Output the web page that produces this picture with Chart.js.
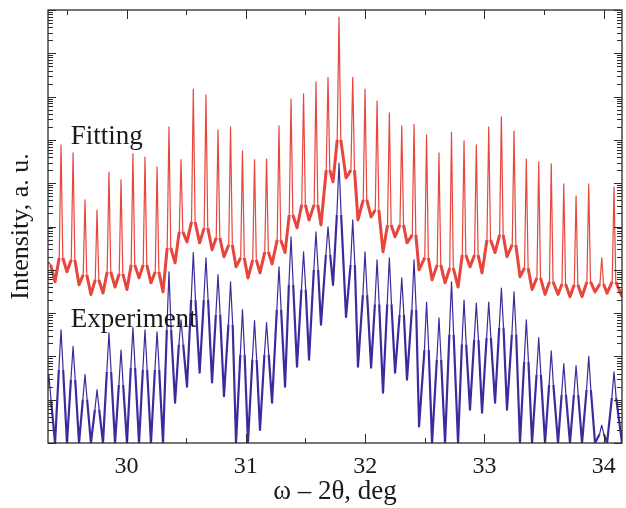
<!DOCTYPE html>
<html>
<head>
<meta charset="utf-8">
<script src="https://cdn.jsdelivr.net/npm/chart.js@4.4.1/dist/chart.umd.min.js"></script>
<style>
  html, body { margin: 0; padding: 0; background: #fff; }
  #wrap { width: 626px; height: 508px; }
</style>
</head>
<body>
<div id="wrap"><canvas id="xrd"></canvas></div>
<script>
// superlattice satellite positions, deg (shared by both curves)
const peakPos = [29.349, 29.451, 29.552, 29.652, 29.753, 29.853, 29.954, 30.054, 30.155, 30.256,
    30.356, 30.457, 30.560, 30.666, 30.767, 30.872, 30.972, 31.073, 31.174, 31.278,
    31.379, 31.484, 31.588, 31.689, 31.781, 31.896, 31.999, 32.100, 32.203, 32.307,
    32.410, 32.515, 32.619, 32.724, 32.829, 32.932, 33.036, 33.142, 33.248, 33.351,
    33.455, 33.560, 33.665, 33.768, 33.874, 33.983, 34.086];
// minimum after each peak, deg
const valleyPos = [29.401, 29.501, 29.602, 29.702, 29.803, 29.904, 30.004, 30.105, 30.205, 30.306,
    30.407, 30.507, 30.613, 30.717, 30.817, 30.918, 31.018, 31.119, 31.220, 31.329,
    31.429, 31.530, 31.630, 31.731, 31.840, 31.940, 32.050, 32.150, 32.251, 32.351,
    32.452, 32.561, 32.670, 32.779, 32.879, 32.980, 33.089, 33.189, 33.298, 33.399,
    33.508, 33.617, 33.717, 33.818, 33.927, 34.028, 34.153];

// Fitting (red)
const fitTop = [1.5e4, 7.7e6, 5.0e6, 4.1e5, 2.4e5, 1.8e6, 1.2e6, 4.8e6, 4.0e6, 2.4e6,
    2.0e7, 3.5e6, 1.5e8, 1.1e8, 1.7e7, 2.0e7, 5.6e6, 3.5e6, 3.6e6, 2.1e7,
    8.8e7, 1.15e8, 2.2e8, 2.8e8, 6.9e9, 2.8e8, 1.5e8, 7.9e7, 4.2e7, 2.1e7,
    2.3e7, 1.3e7, 5.0e6, 1.5e7, 9.5e6, 7.7e6, 2.0e7, 3.4e7, 1.6e7, 3.6e6,
    3.1e6, 2.8e6, 9.6e5, 5.1e5, 9.6e5, 1.9e4, 8.2e5];
const fitFoot = [1.3e4, 1.9e4, 1.7e4, 7.7e3, 5.9e3, 9.0e3, 8.1e3, 1.3e4, 1.3e4, 9.0e3,
    3.2e4, 7.5e4, 1.28e5, 9.3e4, 5.5e4, 3.8e4, 1.9e4, 1.7e4, 2.6e4, 4.9e4,
    1.86e5, 3.2e5, 3.2e5, 2.0e6, 1.0e7, 2.0e6, 4.1e5, 2.4e5, 1.09e5, 1.09e5,
    6.4e4, 1.9e4, 1.3e4, 1.1e4, 2.2e4, 2.2e4, 4.9e4, 6.4e4, 3.8e4, 1.1e4,
    6.5e3, 5.3e3, 4.7e3, 4.5e3, 5.3e3, 4.7e3, 5.3e3];
const fitValley = [5.3e3, 9.0e3, 4.5e3, 2.7e3, 2.9e3, 4.0e3, 3.5e3, 6.5e3, 5.0e3, 3.1e3,
    1.45e4, 4.4e4, 4.2e4, 2.9e4, 2.0e4, 1.17e4, 6.5e3, 8.5e3, 1.37e4, 2.5e4,
    9.3e4, 1.42e5, 1.09e5, 1.07e6, 1.33e6, 1.42e5, 1.67e5, 2.6e4, 5.8e4, 4.2e4,
    1.0e4, 5.9e3, 5.0e3, 4.0e3, 1.17e4, 8.5e3, 2.5e4, 2.0e4, 6.9e3, 3.5e3,
    2.7e3, 2.7e3, 2.4e3, 2.4e3, 3.1e3, 2.9e3, 2.4e3];

// Experiment (blue)
const expTop = [38, 410, 170, 38, 17, 350, 140, 460, 410, 370,
    9.0e3, 700, 2.5e4, 1.9e4, 7.7e3, 5.3e3, 1.2e3, 670, 600, 1.17e4,
    5.8e4, 2.6e4, 7.5e4, 9.8e4, 2.9e6, 1.42e5, 2.6e4, 1.7e4, 1.9e4, 6.5e3,
    1.7e4, 1.8e3, 780, 5.3e3, 2.0e3, 1.7e3, 1.8e3, 3.8e3, 3.1e3, 700,
    270, 135, 68, 61, 100, 2.6, 44];
const expFoot = [10, 49, 29, 10, 5.9, 44, 22, 55, 49, 49,
    410, 190, 2.0e3, 2.0e3, 910, 540, 110, 84, 110, 1.2e3,
    4.5e3, 3.5e3, 1.0e4, 2.2e4, 1.86e5, 1.3e4, 2.6e3, 1.6e3, 1.6e3, 910,
    1.2e3, 140, 84, 320, 190, 240, 270, 460, 320, 75,
    38, 22, 13, 13, 17, 1.6, 11];
const expValley = [1, 1, 1, 1, 1, 1, 1, 1, 1, 1,
    8.5, 20, 42, 25, 12, 1, 1, 2.0, 8.5, 20,
    58, 84, 540, 4.5e3, 820, 58, 55, 14.5, 42, 29,
    2.4, 1, 1, 1, 5.9, 5.0, 8.5, 5.9, 1, 1,
    1, 1, 1, 1, 1, 1, 1];

// axes
const xMin = 29.342, xMax = 34.153;
const xTickLabels = [30, 31, 32, 33, 34];
const yDecades = [1, 1e1, 1e2, 1e3, 1e4, 1e5, 1e6, 1e7, 1e8, 1e9, 1e10];
const yMinorSteps = [2, 3, 4, 5, 6, 7, 8, 9];

// half width of a satellite spike, deg
const FIT_SPIKE = 0.015;
const EXP_SPIKE = 0.018;

// points go foot, top, foot, valley for every peak
function buildCurve(top, foot, valley, spike) {
    const pts = [];
    peakPos.forEach((x, i) => {
        pts.push({ x: x - spike, y: foot[i] });
        pts.push({ x: x, y: top[i] });
        pts.push({ x: x + spike, y: foot[i] });
        pts.push({ x: valleyPos[i], y: valley[i] });
    });
    return pts;
}

// noisy background between spikes drawn as a heavier stroke
const inValley = ctx => ctx.p0DataIndex % 4 >= 2;

const yTickValues = [];
yDecades.forEach((d, i) => {
    yTickValues.push(d);
    if (i < yDecades.length - 1) yMinorSteps.forEach(k => yTickValues.push(k * d));
});

const serif = '"Liberation Serif", "Times New Roman", serif';

// inward ticks, frame and curve names
const framePlugin = {
    id: 'frame',
    afterDraw(chart) {
        const { ctx, chartArea: a, scales: { x, y } } = chart;
        ctx.save();
        ctx.strokeStyle = '#2b2b2b';
        ctx.lineWidth = 1;
        ctx.beginPath();
        x.ticks.forEach(t => {
            const px = Math.round(x.getPixelForValue(t.value)) + 0.5;
            const len = xTickLabels.includes(Math.round(t.value * 2) / 2) ? 9 : 5;
            ctx.moveTo(px, a.bottom); ctx.lineTo(px, a.bottom - len);
            ctx.moveTo(px, a.top); ctx.lineTo(px, a.top + len);
        });
        y.ticks.forEach(t => {
            const py = Math.round(y.getPixelForValue(t.value)) + 0.5;
            const len = yDecades.includes(t.value) ? 8 : 5;
            ctx.moveTo(a.left, py); ctx.lineTo(a.left + len, py);
            ctx.moveTo(a.right, py); ctx.lineTo(a.right - len, py);
        });
        ctx.stroke();
        ctx.lineWidth = 1.3;
        ctx.strokeRect(a.left, a.top, a.right - a.left, a.bottom - a.top);

        ctx.fillStyle = '#1a1a1a';
        ctx.font = '27px ' + serif;
        ctx.textBaseline = 'alphabetic';
        ctx.fillText('Fitting', x.getPixelForValue(29.532), y.getPixelForValue(8.1e6));
        ctx.fillText('Experiment', x.getPixelForValue(29.532), y.getPixelForValue(483));
        ctx.restore();
    }
};

new Chart(document.getElementById('xrd'), {
    type: 'line',
    data: {
        datasets: [
            {
                label: 'Fitting',
                data: buildCurve(fitTop, fitFoot, fitValley, FIT_SPIKE),
                borderColor: '#e8453c',
                borderWidth: 1.2,
                borderJoinStyle: 'round',
                pointRadius: 0,
                tension: 0,
                segment: { borderWidth: c => inValley(c) ? 3 : 1.2 }
            },
            {
                label: 'Experiment',
                data: buildCurve(expTop, expFoot, expValley, EXP_SPIKE),
                borderColor: '#3a2b9e',
                borderWidth: 1.2,
                borderJoinStyle: 'round',
                pointRadius: 0,
                tension: 0,
                segment: { borderWidth: c => inValley(c) ? 2.2 : 1.2 }
            }
        ]
    },
    options: {
        responsive: true,
        maintainAspectRatio: false,
        animation: false,
        layout: { padding: { top: 10, right: 4, left: 0, bottom: 0 } },
        plugins: {
            legend: { display: false },
            tooltip: { enabled: false }
        },
        scales: {
            x: {
                type: 'linear',
                min: xMin,
                max: xMax,
                grid: { display: false, drawTicks: false },
                border: { display: false },
                ticks: {
                    stepSize: 0.5,
                    includeBounds: false,
                    autoSkip: false,
                    maxRotation: 0,
                    padding: 9,
                    color: '#1a1a1a',
                    font: { family: serif, size: 24 },
                    callback: v => xTickLabels.includes(v) ? String(v) : ''
                },
                title: {
                    display: true,
                    text: 'ω – 2θ, deg',
                    color: '#1a1a1a',
                    font: { family: serif, size: 27 },
                    padding: { top: 0, bottom: 0 }
                },
                afterFit: scale => { scale.height = 65; }
            },
            y: {
                type: 'logarithmic',
                min: 1,
                max: 1e10,
                grid: { display: false, drawTicks: false },
                border: { display: false },
                ticks: { display: false },
                afterBuildTicks: scale => {
                    scale.ticks = yTickValues.map(v => ({ value: v }));
                },
                title: {
                    display: true,
                    text: 'Intensity, a. u.',
                    color: '#1a1a1a',
                    font: { family: serif, size: 26 },
                    padding: { top: 6, bottom: 0 }
                },
                afterFit: scale => { scale.width = 48; }
            }
        }
    },
    plugins: [framePlugin]
});
</script>
</body>
</html>
